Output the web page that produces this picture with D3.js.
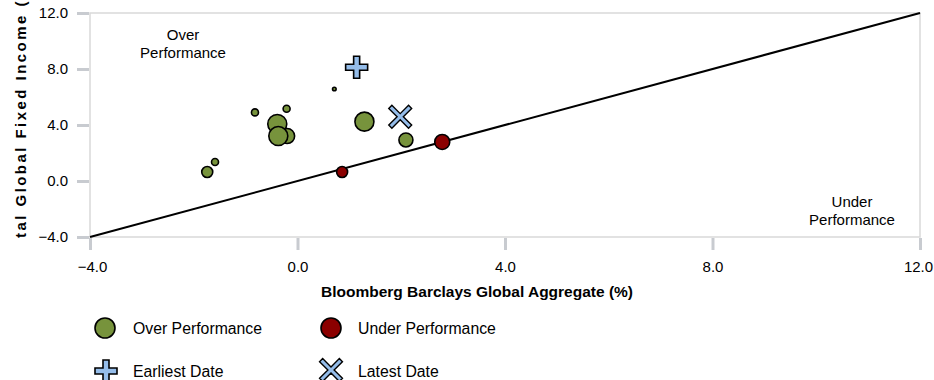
<!DOCTYPE html>
<html><head><meta charset="utf-8">
<script src="https://cdn.jsdelivr.net/npm/d3@7"></script>
<style>body{margin:0;background:#fff}svg{display:block;font-family:"Liberation Sans",Arial,sans-serif}</style>
</head><body><svg id="c" width="934" height="380"></svg>
<script>
// Data
const xTicks = [-4, 0, 4, 8, 12];
const yTicks = [-4, 0, 4, 8, 12];
const pointX = [-0.39, -0.20, -0.37, -1.74, -1.59, -0.82, -0.21, 0.71, 1.29, 2.09, 2.79, 0.86];
const pointY = [4.07, 3.21, 3.21, 0.64, 1.36, 4.90, 5.16, 6.57, 4.24, 2.93, 2.79, 0.64];
const pointSize = [9.5, 7.5, 9.5, 5.5, 3.5, 3.5, 3.5, 1.8, 9.5, 7, 7.5, 5.5];
const pointGroup = ["over","over","over","over","over","over","over","over","over","over","under","under"];
const earliest = [1.14, 8.12];
const latest = [1.98, 4.59];
const legendLabels = ["Over Performance", "Under Performance", "Earliest Date", "Latest Date"];

const svg = d3.select("#c");
const L = 90, R = 920, T = 13, B = 237;
const x = d3.scaleLinear().domain([-4, 12]).range([L, R]);
const y = d3.scaleLinear().domain([-4, 12]).range([B, T]);
const r = d3.scaleLinear().domain([0, 10]).range([0, 10]);
const colors = {over: "#77933c", under: "#8b0000"};
const blue = "#95bdea";

// plot border
svg.append("rect").attr("x", L).attr("y", T).attr("width", R - L).attr("height", B - T)
  .attr("fill", "none").attr("stroke", "#d9d9d9").attr("stroke-width", 1.5);

// axes
const xAxis = svg.append("g").attr("transform", `translate(0,${B + 1})`)
  .call(d3.axisBottom(x).tickValues(xTicks).tickFormat(d3.format(".1f")).tickSize(12).tickPadding(11));
const yAxis = svg.append("g").attr("transform", `translate(${L - 1},0)`)
  .call(d3.axisLeft(y).tickValues(yTicks).tickFormat(d3.format(".1f")).tickSize(12).tickPadding(9));
[xAxis, yAxis].forEach(g => {
  g.select(".domain").remove();
  g.selectAll(".tick line").attr("stroke", "#c8cbd0").attr("stroke-width", 3);
  g.selectAll(".tick text").attr("fill", "#000").attr("font-size", 15)
    .attr("font-family", "'Liberation Sans', Arial, sans-serif");
});
xAxis.selectAll(".tick text").filter(d => d === -4).attr("dx", 2);
xAxis.selectAll(".tick text").filter(d => d === 12).attr("dx", -2);

// diagonal
svg.append("line").attr("x1", x(-4)).attr("y1", y(-4)).attr("x2", x(12)).attr("y2", y(12))
  .attr("stroke", "#000").attr("stroke-width", 2);

// annotations
const ann = (cx, cy, lines) => {
  const t = svg.append("text").attr("text-anchor", "middle").attr("font-size", 15).attr("fill", "#000");
  lines.forEach((s, i) => t.append("tspan").attr("x", cx).attr("y", cy + i * 18).text(s));
};
ann(183, 40, ["Over", "Performance"]);
ann(852, 207, ["Under", "Performance"]);

// points
const pts = pointX.map((v, i) => ({x: v, y: pointY[i], s: pointSize[i], g: pointGroup[i]}));
svg.append("g").selectAll("circle").data(pts).join("circle")
  .attr("cx", d => x(d.x)).attr("cy", d => y(d.y)).attr("r", d => r(d.s))
  .attr("fill", d => colors[d.g]).attr("stroke", "#000").attr("stroke-width", 1.6);

// markers
const plusPath = (a, w) => `M${-w},${-a}H${w}V${-w}H${a}V${w}H${w}V${a}H${-w}V${w}H${-a}V${-w}H${-w}Z`;
function plus(g, cx, cy) {
  g.append("path").attr("d", plusPath(11, 3)).attr("transform", `translate(${cx},${cy})`)
    .attr("fill", blue).attr("stroke", "#000").attr("stroke-width", 1.6);
}
function cross(g, cx, cy) {
  g.append("path").attr("d", plusPath(14, 2.2)).attr("transform", `translate(${cx},${cy}) rotate(45)`)
    .attr("fill", blue).attr("stroke", "#000").attr("stroke-width", 1.4);
}
plus(svg, x(earliest[0]), y(earliest[1]));
cross(svg, x(latest[0]), y(latest[1]));

// axis titles
svg.append("text").attr("x", 477).attr("y", 297).attr("text-anchor", "middle")
  .attr("font-size", 15.5).attr("font-weight", "bold").text("Bloomberg Barclays Global Aggregate (%)");
svg.append("clipPath").attr("id", "yclip").append("rect").attr("x", 0).attr("y", 0).attr("width", 40).attr("height", 239);
svg.append("g").attr("clip-path", "url(#yclip)").append("text")
  .attr("transform", "translate(25.5,118) rotate(-90)").attr("text-anchor", "middle")
  .attr("font-size", 15).attr("font-weight", "bold").attr("letter-spacing", 2.45)
  .text("Total Global Fixed Income (%)");

// legend
const lg = svg.append("g");
lg.append("circle").attr("cx", 105).attr("cy", 328).attr("r", 10).attr("fill", colors.over).attr("stroke", "#000").attr("stroke-width", 1.6);
lg.append("circle").attr("cx", 331).attr("cy", 328).attr("r", 10).attr("fill", colors.under).attr("stroke", "#000").attr("stroke-width", 1.6);
plus(lg, 106, 371);
cross(lg, 331, 370);
[[133, 334], [358, 334], [133, 377], [358, 377]].forEach((p, i) =>
  lg.append("text").attr("x", p[0]).attr("y", p[1]).attr("font-size", 15.8).text(legendLabels[i]));
</script></body></html>
